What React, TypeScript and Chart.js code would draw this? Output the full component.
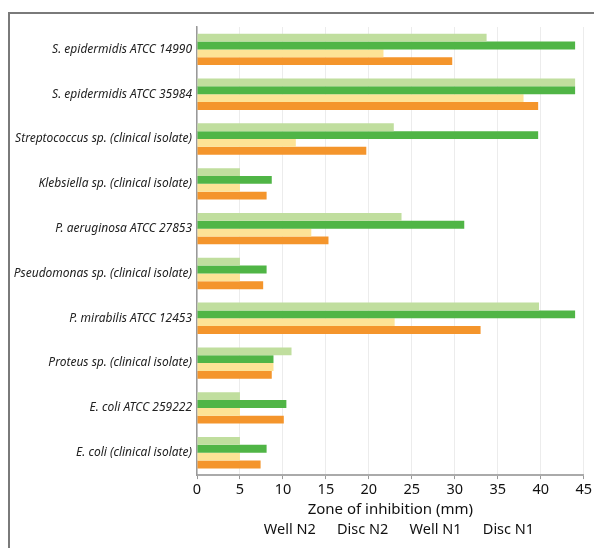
import React, { useEffect, useRef } from "react";
import { Chart, registerables } from "chart.js";

Chart.register(...registerables);

const categories = [
  "S. epidermidis ATCC 14990",
  "S. epidermidis ATCC 35984",
  "Streptococcus sp. (clinical isolate)",
  "Klebsiella sp. (clinical isolate)",
  "P. aeruginosa ATCC 27853",
  "Pseudomonas sp. (clinical isolate)",
  "P. mirabilis ATCC 12453",
  "Proteus sp. (clinical isolate)",
  "E. coli ATCC 259222",
  "E. coli (clinical isolate)",
];

const wellN2 = [33.7, 44, 22.9, 5, 23.8, 5, 39.8, 11, 5, 5];
const wellN1 = [44, 44, 39.7, 8.7, 31.1, 8.1, 44, 8.9, 10.4, 8.1];
const discN2 = [21.7, 38, 11.5, 5, 13.3, 5, 23, 8.9, 5, 5];
const discN1 = [29.7, 39.7, 19.7, 8.1, 15.3, 7.7, 33, 8.7, 10.1, 7.4];

const xTicks = [0, 5, 10, 15, 20, 25, 30, 35, 40, 45];
const legendOrder = ["Well N2", "Disc N2", "Well N1", "Disc N1"];

export default function App() {
  const ref = useRef<HTMLCanvasElement | null>(null);

  useEffect(() => {
    if (!ref.current) return;
    const font = "'Noto Sans', 'Open Sans', sans-serif";
    const chart = new Chart(ref.current, {
      type: "bar",
      data: {
        labels: categories,
        datasets: [
          { label: "Well N2", data: wellN2, backgroundColor: "#c0de9e" },
          { label: "Well N1", data: wellN1, backgroundColor: "#50b546" },
          { label: "Disc N2", data: discN2, backgroundColor: "#fde396" },
          { label: "Disc N1", data: discN1, backgroundColor: "#f4952c" },
        ],
      },
      options: {
        indexAxis: "y",
        animation: false,
        responsive: false,
        maintainAspectRatio: false,
        datasets: {
          bar: { categoryPercentage: 0.7, barPercentage: 1.0 },
        },
        layout: { padding: { top: 13, right: 4, left: 0, bottom: 1 } },
        scales: {
          x: {
            min: 0,
            max: 45,
            afterBuildTicks: (scale: any) => {
              scale.ticks = xTicks.map((v) => ({ value: v }));
            },
            ticks: {
              color: "#111",
              font: { family: font, size: 14.5 },
              padding: 2,
            },
            grid: {
              color: "#ececec",
              tickColor: "#999",
              tickLength: 4,
              lineWidth: 1,
            },
            border: { color: "#aaa", width: 2 },
            title: {
              display: true,
              text: "Zone of inhibition (mm)",
              color: "#111",
              font: { family: font, size: 15 },
              padding: { top: 0, bottom: 0 },
            },
          },
          y: {
            afterFit: (scale: any) => {
              scale.width = 187;
            },
            ticks: {
              color: "#222",
              font: { family: font, size: 12, style: "italic" },
              padding: 5,
            },
            grid: { display: false, drawTicks: false, tickLength: 0 },
            border: { color: "#999", width: 1.5 },
          },
        },
        plugins: {
          legend: {
            position: "bottom",
            fullSize: false,
            labels: {
              boxWidth: 10,
              boxHeight: 10,
              padding: 4,
              color: "#111",
              font: { family: font, size: 14.5 },
              generateLabels: (c: any) =>
                Chart.defaults.plugins.legend.labels
                  .generateLabels(c)
                  .map((l: any) => ({
                    ...l,
                    fillStyle: "rgba(0,0,0,0)",
                    strokeStyle: "rgba(0,0,0,0)",
                    lineWidth: 0,
                  })),
              sort: (a: any, b: any) =>
                legendOrder.indexOf(a.text) - legendOrder.indexOf(b.text),
            },
          },
          tooltip: { enabled: false },
        },
      },
    });
    return () => chart.destroy();
  }, []);

  return (
    <div
      style={{
        position: "absolute",
        left: 8,
        top: 12,
        width: 586,
        height: 536,
        borderTop: "2px solid #7a7a7a",
        borderLeft: "2px solid #7a7a7a",
        boxSizing: "border-box",
        background: "#fff",
      }}
    >
      <canvas ref={ref} width={584} height={534} style={{ display: "block" }} />
    </div>
  );
}
